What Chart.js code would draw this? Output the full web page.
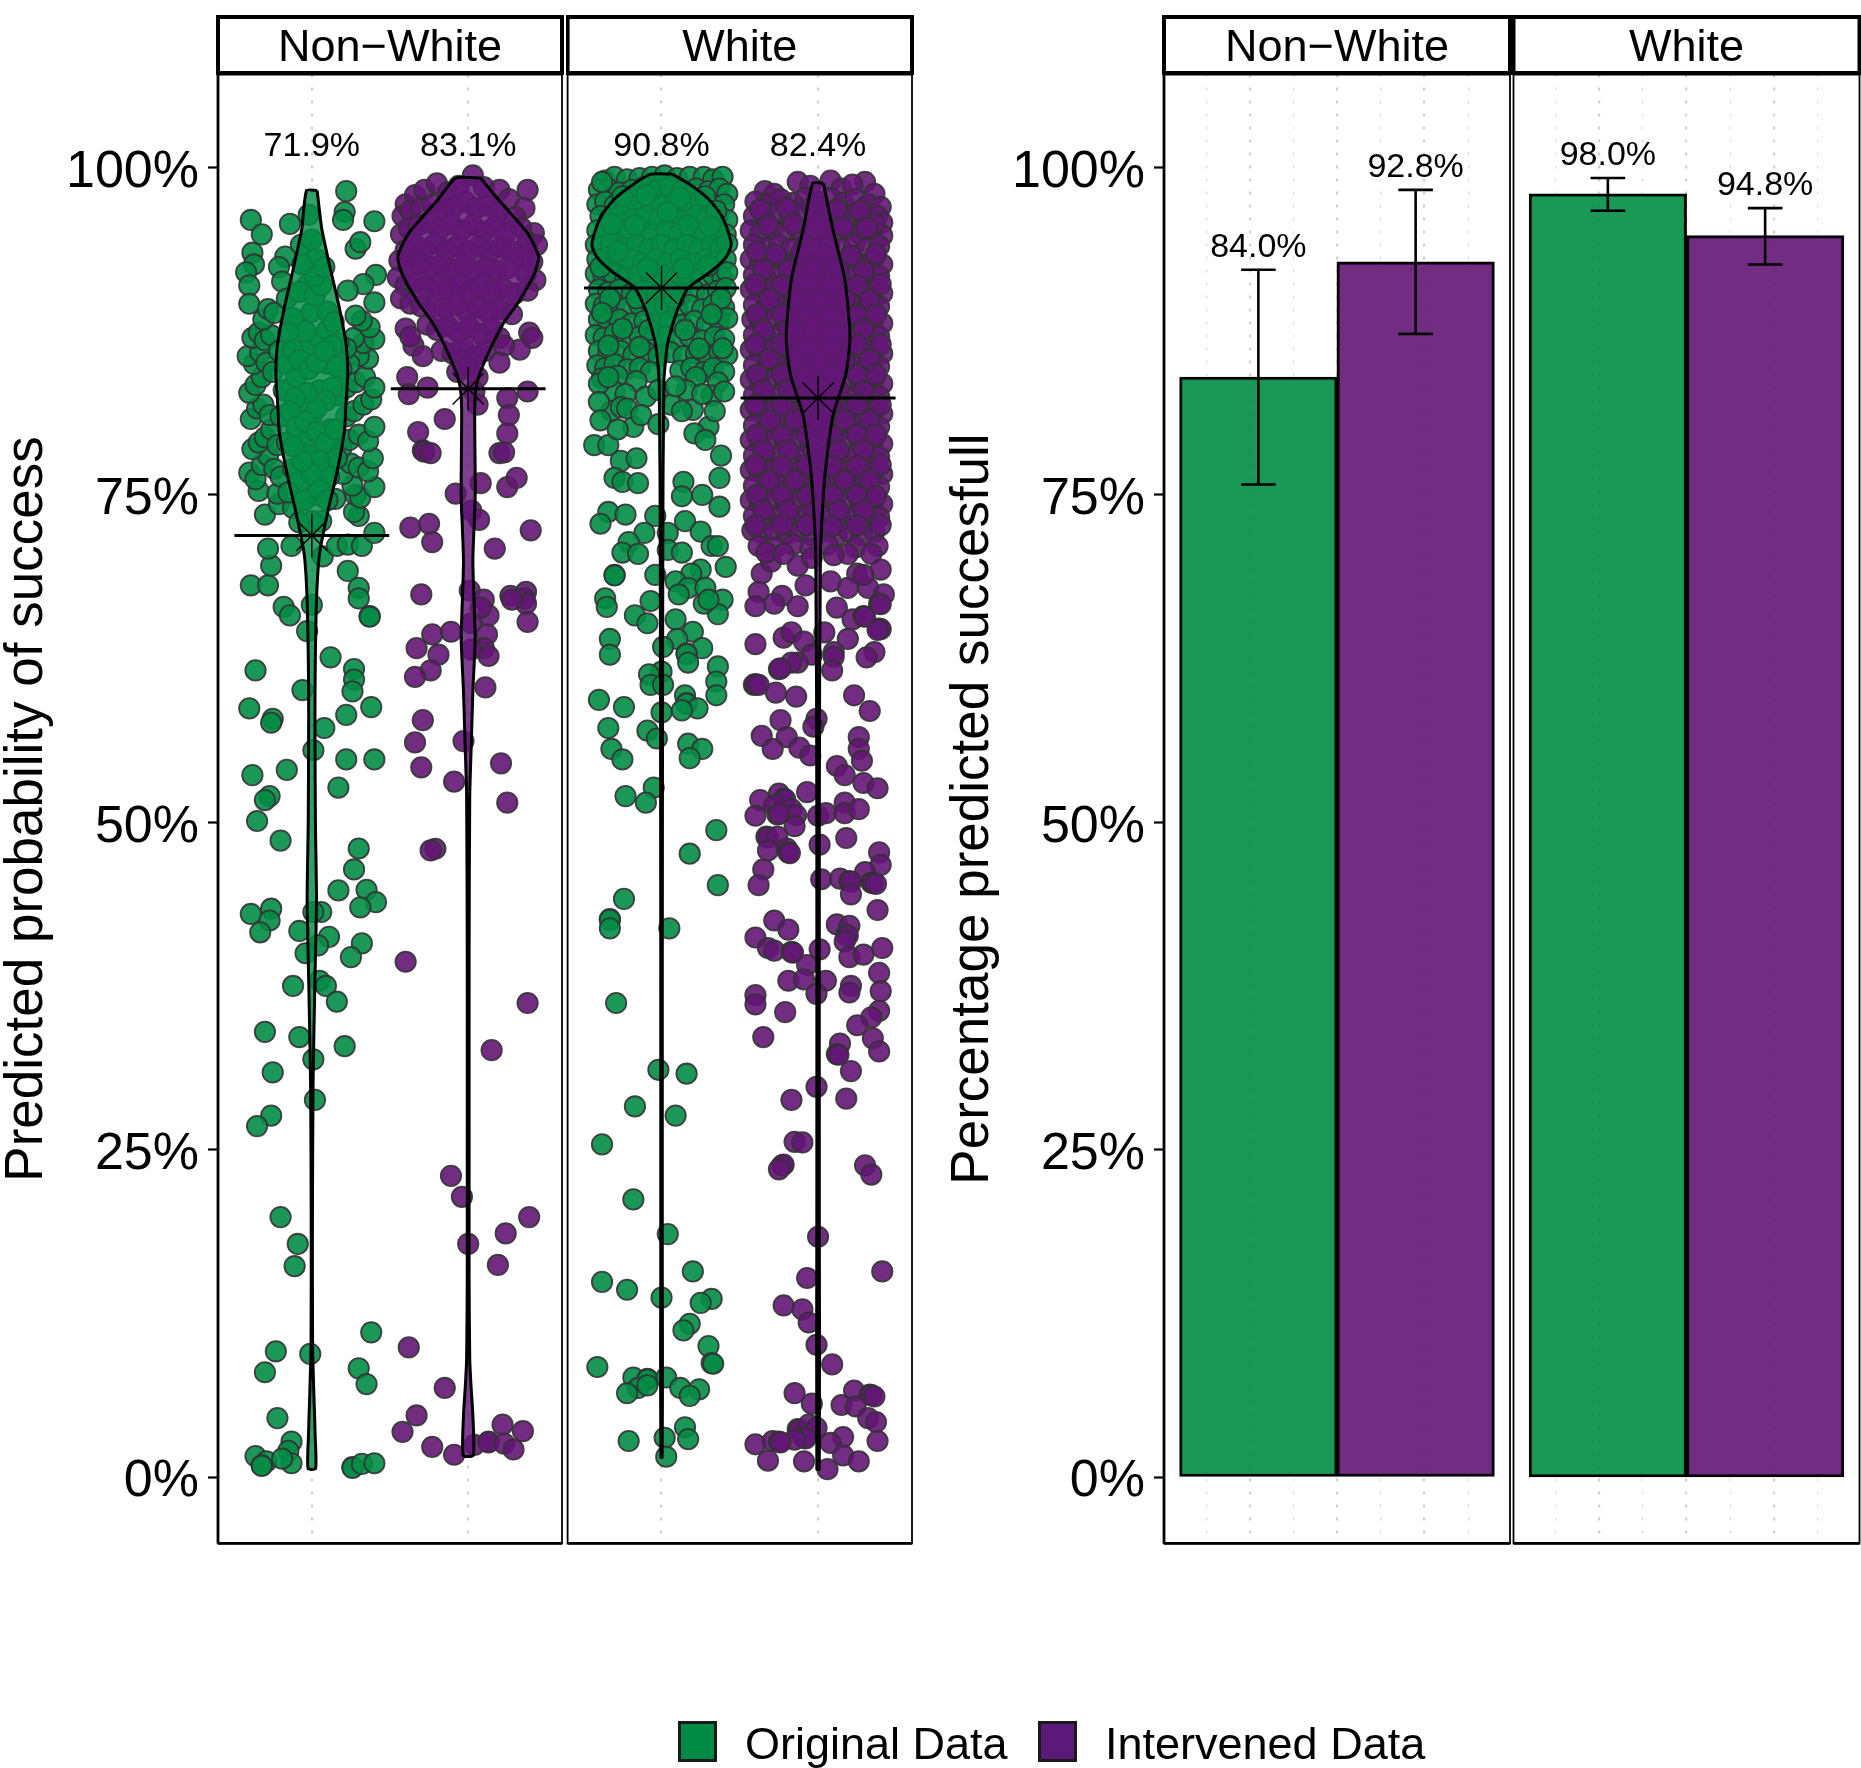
<!DOCTYPE html>
<html><head><meta charset="utf-8">
<script src="https://cdn.jsdelivr.net/npm/chart.js@4/dist/chart.umd.min.js"></script>
<style>
html,body{margin:0;padding:0;background:#fff;width:1861px;height:1768px;overflow:hidden}
canvas{position:absolute;top:0}
.lg{position:absolute;font:45px "Liberation Sans",Arial,sans-serif;color:#000;line-height:50px;white-space:pre}
.sw{position:absolute;box-sizing:border-box;border:3px solid #1a1a1a}
</style></head><body>
<canvas id="c1" width="564" height="1768" style="left:0"></canvas>
<canvas id="c2" width="348" height="1768" style="left:566px"></canvas>
<canvas id="c3" width="582" height="1768" style="left:930px"></canvas>
<canvas id="c4" width="349" height="1768" style="left:1512px"></canvas>
<div class="sw" style="left:678px;top:1721px;width:39px;height:41px;background:#008A45"></div>
<div class="lg" style="left:745px;top:1719px">Original Data</div>
<div class="sw" style="left:1038px;top:1721px;width:39px;height:41px;background:#5B1A79"></div>
<div class="lg" style="left:1105px;top:1719px">Intervened Data</div>
<script>
const facets = ["Non\u2212White","White"];
const yTicks = [0,25,50,75,100];
const titleLeft = "Predicted probability of success";
const titleRight = "Percentage predicted succesfull";
const means = [[71.9,83.1],[90.8,82.4]];
const barValues = [[84.0,92.8],[98.0,94.8]];
const barLabels = [["84.0%","92.8%"],["98.0%","94.8%"]];
const errLow = [[75.8,87.3],[96.7,92.6]];
const errHigh = [[92.2,98.3],[99.2,96.9]];
const gridMajorLeft = [1,2];
const gridMajorRight = [0.946,1.5,2.054];
const gridMinorRight = [0.668,1.223,1.78,2.336];

const violinY_NW_O = [98.25,95.3,92.35,89.4,86.5,84.2,82.1,79.8,76.6,73.7,70.5,67,62,58,50,44,38,30,20,10,6,3,0.65];
const violinW_NW_O = [.034,.064,.117,.174,.219,.23,.219,.208,.158,.102,.049,.03,.022,.02,.023,.03,.02,.008,.004,.005,.014,.022,.024];
const violinY_NW_I = [99.2,97.6,95,93.2,91.8,89.7,88,85.6,83.6,81.6,75,70,66,64,60,56,52,40,25,15,9,7,4.7,1.65];
const violinW_NW_I = [.08,.19,.38,.45,.42,.32,.22,.12,.057,.042,.045,.03,.04,.045,.03,.02,.01,.006,.006,.006,.01,.018,.03,.032];
const violinY_W_O = [99.5,98.8,97.6,96.4,95.3,94.1,93.2,92.1,90.8,88.9,86.5,83.6,70,40,15,10,1.5];
const violinW_W_O = [.068,.17,.30,.38,.42,.445,.415,.32,.17,.094,.038,.015,.008,.005,.005,.006,.004];
const violinY_W_I = [98.8,95.3,91.5,87.1,84.2,81,76.3,70.5,50,20,0.6];
const violinW_W_I = [.034,.094,.17,.204,.177,.094,.042,.015,.008,.008,.008];

const points_NW_O = [
[1.22,98.2],[1.21,96.6],[1.20,96],[1.40,95.9],[.86,95.7],[.61,96],[.68,94.9],[1.28,93.8],[1.31,94.3],[.93,94.1],[.62,93.5],[.83,93.2],[.63,92.6],[.79,92.4],[.58,92],[1.41,91.8],[.6,91],[1.33,91.1],[1.23,90.6],[.81,91.3],[1.4,89.7],[.6,89.6],
[.61,68.1],[.72,68.1],[.74,69.6],[.72,70.9],[.87,71.1],[1.07,70.3],[1.16,71.1],[1.23,71.2],[1.32,71.1],[1.23,69.2],[1.30,67.9],[1.40,72.1],[.7,73.5],[.79,74.3],[1.30,73.4],[1.27,73.7],[.66,75.3],[.78,75.1],[1.15,74.7],[1.28,75],[1.31,74.8],[1.40,75.6],[1.26,75.7],
[.60,76.7],[.64,76.2],[.68,77.3],[.72,78],[.76,77],[.80,76.4],[.62,78.5],[.66,79],[.70,79.4],[.74,80],[.78,78.8],[.61,80.8],[.65,81.6],[.69,81.9],[.73,81.1],[.60,82.8],[.64,83.4],[.68,84],[.63,85],[.59,85.6],[.67,85.9],[.71,85.1],[.75,84.4],[.62,87],[.66,87.4],[.70,86.8],[.74,87.2],[.79,86],[.84,85],[.82,83],[.80,81],[.84,79],[.88,77],[.69,88.4],[.72,89.2],[.76,88.9],
[1.20,76.6],[1.25,77.4],[1.30,77.1],[1.36,76.8],[1.39,77.8],[1.19,78.6],[1.24,79.2],[1.30,79.6],[1.36,79.1],[1.40,80.2],[1.22,81],[1.27,81.4],[1.33,81.9],[1.38,82.3],[1.17,82.6],[1.22,83.2],[1.28,83.6],[1.34,84],[1.40,83.2],[1.36,85.4],[1.30,85.6],[1.24,85],[1.19,84.6],[1.33,86.6],[1.27,87],[1.22,86.2],[1.40,86.9],[1.37,87.8],[1.32,88.3],[1.28,88.7],
[.88,74],[.92,76],[.95,79],[1,81],[1.05,83],[.9,84],[.95,86],[1.05,87],[1.1,85],[1.12,80],[1.08,77],[1.02,75],[.93,82],[1,89],[.97,91],[1.03,93],[.98,78],[1.06,73],[1.1,89],[.9,88],
[.84,90],[.88,88.5],[.92,90.5],[.96,87.5],[1.02,90.2],[1.06,91],[1.1,87.6],[1.14,88.2],[1.17,86.6],[1.13,86.4],[.85,87.4],[.88,86.1],[.92,85.3],[.98,84.6],[1.03,85.1],[1.08,86],[1.16,84.8],[1.13,83.2],[1.09,82.2],[1.03,81.6],[.97,82.8],[.89,82.4],[.86,81.4],[.9,80.2],[.96,80.6],[1.03,79.8],[1.09,79],[1.15,80],[1.16,77.8],[1.11,76.4],[1.05,77.6],[1,76.6],[.94,77.6],[.88,78.7],[.85,75.2],[.95,74.6],[1,73],[1.05,75.4],[1.1,74.6],[.92,72.9],[1,94.5],[.98,96.4],[1.02,91.7],[.94,92.6],[1.08,92.4],
[.82,66.45],[.86,65.8],[.97,64.6],[1,66.6],[1.37,65.75],[1.37,65.7],[1.30,67.1],[1.12,62.6],[.64,61.6],[1.27,61.7],[1.27,60.9],[1.26,60],[.94,60.1],[.60,58.7],[.75,57.9],[.74,57.6],[1.38,58.8],[1.22,58.2],[1.08,57.2],[1.01,55.5],[1.22,54.8],[1.40,54.8],[.84,54],[.62,53.6],[1.17,52.65],[.73,52],[.70,51.7],[.65,50.1],[.80,48.6],[1.30,48],[1.27,46.4],[1.17,44.8],[1.35,44.85],[1.41,43.9],[1.31,43.5],[.74,43.4],[.61,43],[.73,42.5],[.67,41.6],[1.06,43.15],[1.01,43.15],[.92,41.7],[1.11,41.25],[1.04,40.6],[.96,40],[1.32,40.75],[1.25,39.7],[1.05,37.9],[1.09,37.5],[.88,37.5],[1.16,36.3],[.70,34],[.92,33.6],[1.21,32.9],[1.01,31.9],[.75,30.9],[1.02,28.8],[.74,27.6],[.65,26.8],
[.80,19.85],[.91,17.8],[.89,16.1],[.99,9.4],[.77,9.6],[.70,8],[1.38,11.05],[1.30,8.3],[1.35,7.1],[.78,4.5],[.87,2.7],[.85,2],[.64,1.6],[.71,1.2],[.68,.9],[.68,.85],[.87,1.05],[.81,1.4],[1.26,.75],[1.26,.7],[1.32,1],[1.40,1.05]];

const points_NW_I = [
[1.60,97.2],[1.66,97.9],[1.72,98.3],[1.80,98.8],[1.87,98.1],[1.94,98.6],[2.03,99.4],[2.10,98.5],[2.20,98.3],[2.26,97.6],[2.38,98.3],[2.36,96.9],
[1.58,96.3],[1.63,96.7],[1.70,96.9],[1.77,97.2],[1.84,96.8],[1.91,97],[1.98,97.4],[2.05,96.9],[2.12,97.1],[2.19,96.6],[2.30,96.2],[2.42,95],[2.34,95.4],
[1.57,94.9],[1.62,95.4],[1.68,95.6],[1.75,95.8],[1.82,95.3],[1.89,95.7],[1.96,95.2],[2.03,95.6],[2.10,95.1],[2.17,95.5],[2.24,95],[2.38,94.3],[2.44,94.1],
[1.60,93.7],[1.66,94.1],[1.72,93.8],[1.79,94.2],[1.86,93.7],[1.93,94],[2,93.6],[2.07,94],[2.14,93.6],[2.21,93.9],[2.28,93.6],[2.34,93.2],[2.41,92.8],
[1.56,92.9],[1.62,92.5],[1.69,92.7],[1.76,92.4],[1.83,92.6],[1.90,92.2],[1.97,92.5],[2.04,92.1],[2.11,92.4],[2.18,92.1],[2.25,92.3],[2.37,91.9],[2.43,91.4],
[1.55,91.6],[1.60,91],[1.66,91.2],[1.73,90.9],[1.80,91],[1.87,90.7],[1.94,91],[2.01,90.6],[2.08,90.9],[2.15,90.5],[2.22,90.8],[2.30,90.4],[2.38,90.6],
[1.57,90],[1.63,89.6],[1.70,89.4],[1.78,89.4],[1.85,89.2],[1.92,89.5],[1.99,89],[2.06,89.3],[2.13,88.9],[2.20,89.2],[2.28,88.8],
[1.74,88],[1.80,87.6],[1.87,87.9],[1.94,87.4],[2.01,87.8],[2.08,87.3],[2.15,87.7],[2.20,87],[1.83,86],[1.90,85.8],[1.97,86.2],[2.04,85.6],[2.11,86],[1.93,84.4],[2,84.8],[2.06,84],
[1.6,87.7],[1.65,86.4],[1.63,87.1],[1.71,85.6],[2.39,87.4],[2.41,87],[2.33,86.1],[2.23,86.4],[2.2,85.1],[1.61,84],[1.62,82.7],[1.74,83.2],[2.04,82.9],[2.06,81.9],[2.38,82.9],[2.25,82.4],[2.26,81.1],[1.85,80.8],[1.68,79.8],[2.25,79.7],[1.71,78.4],[1.72,78.3],[1.76,78.2],[2.2,78.2],[2.23,78.25],[1.92,75.1],[2.08,75.9],[2.25,75.6],[2.31,76.3],[2.02,73.8],[2.07,73.1],[1.63,72.5],[1.75,72.8],[2.4,72.3],[1.77,71.4],[2.17,70.9],[1.7,67.4],[2.01,67.7],[2.1,67],[2.27,67.3],[2.37,67.6],[2.36,67.1],
[2.37,66.7],[2.28,67],[2.38,65.3],[2.13,65.8],[2.02,65.2],[2.08,66.4],[1.89,64.55],[1.77,64.35],[1.67,63.3],[1.81,62.8],[2.12,64.35],[2.1,63.3],[2.13,62.7],[2.02,63.2],[1.76,61.6],[1.66,61.1],[2.11,60.3],[1.71,57.8],[1.66,56.1],[1.97,56.2],[1.7,54.2],[2.21,54.5],[1.91,53.1],[2.25,51.5],[1.79,47.98],[1.76,47.85],[1.6,39.35],[2.38,36.2],[2.15,32.6],[1.89,23],[1.96,21.4],
[2.39,19.85],[2.24,18.6],[2,17.8],[2.19,16.2],[1.62,9.9],[1.85,6.8],[1.67,4.7],[1.58,3.45],[1.77,2.3],[1.91,1.7],[2.04,2.45],[2.13,2.7],[2.13,2.65],[2.22,4],[2.35,3.5],[2.23,2.55],[2.29,2.1]];

const points_W_O = [
[.64,99],[.70,99.3],[.78,99.1],[.86,99.2],[.94,99.3],[1.02,99.4],[1.10,99.2],[1.18,99.3],[1.27,99.3],[1.33,99.1],[1.39,99.3],
[.60,98.3],[.66,98.4],[.73,98.1],[.81,98.3],[.89,98.5],[.97,98.2],[1.05,98.5],[1.13,98.2],[1.22,98.4],[1.30,98.2],[1.37,98.4],[1.42,98],
[.59,97.2],[.64,97.4],[.70,97.1],[.77,97.4],[.85,97.1],[.93,97.4],[1.01,97.1],[1.09,97.4],[1.17,97.1],[1.25,97.4],[1.33,97.1],[1.40,97.2],
[.61,96.3],[.67,96.1],[.74,96.4],[.82,96.1],[.90,96.3],[.98,96],[1.06,96.3],[1.14,96],[1.22,96.3],[1.29,96],[1.36,96.3],[1.42,96],
[.59,95.2],[.64,95],[.71,95.3],[.79,95],[.87,95.2],[.95,94.9],[1.03,95.2],[1.11,94.9],[1.19,95.2],[1.27,94.9],[1.34,95.2],[1.41,94.9],
[.58,94.1],[.62,94],[.68,94.2],[.76,93.9],[.84,94.1],[.92,93.8],[1,94.1],[1.08,93.8],[1.16,94.1],[1.24,93.8],[1.32,94.1],[1.38,93.9],[1.42,94.2],
[.59,93],[.65,93.1],[.72,92.8],[.80,93],[.88,92.7],[.96,93],[1.04,92.7],[1.12,93],[1.20,92.7],[1.28,93],[1.35,92.8],[1.41,93],
[.58,91.9],[.63,91.7],[.69,91.9],[.77,91.6],[.85,91.8],[.93,91.5],[1.01,91.8],[1.09,91.5],[1.17,91.8],[1.25,91.5],[1.33,91.8],[1.39,91.6],[1.42,92],
[.60,90.7],[.66,90.5],[.73,90.7],[.81,90.4],[.89,90.6],[.97,90.3],[1.05,90.6],[1.13,90.3],[1.21,90.6],[1.29,90.3],[1.36,90.6],[1.41,90.8],
[.58,89.6],[.63,89.4],[.70,89.6],[.78,89.3],[.86,89.5],[.94,89.2],[1.02,89.5],[1.10,89.2],[1.18,89.5],[1.26,89.2],[1.33,89.5],[1.40,89.3],
[.60,88.4],[.66,88.2],[.73,88.4],[.81,88.1],[.89,88.3],[.97,88],[1.05,88.3],[1.13,88],[1.21,88.3],[1.29,88],[1.37,88.3],[1.42,88.5],
[.58,87.2],[.63,87],[.70,87.3],[.78,86.9],[.86,87.1],[.94,86.8],[1.02,87.1],[1.10,86.8],[1.18,87.1],[1.26,86.8],[1.34,87.1],[1.40,86.9],
[.60,86],[.66,85.9],[.74,86],[.82,85.7],[.90,85.9],[.98,85.6],[1.06,85.9],[1.14,85.6],[1.22,85.8],[1.30,85.6],[1.37,85.9],[1.42,85.7],
[.59,84.9],[.64,84.7],[.70,85],[.78,84.6],[.86,84.7],[.93,84.4],[1.12,84.5],[1.19,84.7],[1.27,84.4],[1.33,84.7],[1.40,84.4],
[.62,98.9],[.75,97.8],[.9,97.9],[1.12,97.7],[1.28,97.8],[1.35,96.7],[.68,95.7],[.83,95.6],[1.04,96.6],[1.17,95.6],[1.31,95.5],[.61,92.4],[.72,93.6],[.91,92.3],[1.14,92.3],[1.3,92.5],[.67,90],[.84,90],[1.08,90],[1.38,90],[.62,88.9],[.75,87.7],[.92,87.6],[1.15,87.6],[1.32,88.8],[.66,86.4],[.86,86.3],[1.24,86.2],[1.39,86.2],[.72,84.1],[.62,83.9],[1.22,84],[1.36,83.6],[.84,83.7],[.7,82.9],[1.16,83],[1.32,82.6],[.9,82.5],[.68,81.4],[1.06,81.9],[1.2,81.5],[.82,80.2],
[1.4,82.9],[1.26,82.7],[.6,83.5],[.66,84],[.77,82.7],[.74,81.7],[.98,83],[1.09,83.3],[.6,82.1],[.61,80.7],[.78,81.6],[.87,81.1],[.98,80.4],[1.13,81.4],[1.3,80.2],[1.21,79.7],[1.28,79.2],[1.34,81.4],
[.57,78.8],[.66,78.8],[.74,77.6],[.72,80],[.84,77.8],[.7,76.3],[.75,76],[.85,75.9],
[1.38,78],[1.37,76.3],[1.37,74.1],[.66,73.7],[.77,73.5],[.61,72.8],[1.14,76],[1.13,74.9],[1.26,75],[.96,73.4],[1.04,72.1],[.89,72.1],[.79,71.4],[.75,70.6],[.85,70.5],[1.15,73],[1.25,72.2],[1.04,70.8],[1.13,70.6],[1.32,71.1],[1.36,71.1],[1.41,69.5],[1.25,69.3],[.7,68.9],[.7,68.85],[.96,68.9],[1.19,69],[1.09,68.4],[.64,67.1],[1.17,67.9],[1.28,67.9],[1.39,67],[1.11,67.4],
[.65,66.45],[.93,66.9],[1.36,65.9],[1.27,66.7],[1.3,67],[.83,65.8],[.91,65.2],[1.09,65.5],[.67,64],[.67,62.8],[1.2,64.55],[1.1,64],[1.01,63.4],[1.26,63.3],[1.16,62.9],[1.16,62.85],[1.17,62.2],[1.36,61.9],[1,61.5],[.92,61.3],[.93,60.5],[1.01,60.5],[1.35,60.75],[1.35,59.7],[1.15,59.7],[1.16,59.1],[1.16,59.05],[1.23,58.7],[1.13,58.55],[1,58.4],[.6,59.35],[.76,58.8],[.66,57.2],[.91,57],[.97,56.4],[1.17,56],[1.26,55.6],[1.18,54.9],[.68,55.6],[.75,54.8],[.95,52.65],[.77,52],[.9,51.5],[1.35,49.4],[1.18,47.6],[1.36,45.2],[.76,44.15],[.67,42.6],[.67,42.55],[.67,41.9],[1.05,41.9],[.71,36.2],[.98,31.1],[1.16,30.8],[.83,28.3],[1.09,27.6],[.62,25.4],
[.82,21.2],[1.04,18.55],[1.2,15.7],[.62,14.9],[.78,14.3],[1,13.7],[1.32,13.6],[1.25,13.3],[1.18,11.7],[1.14,11.2],[1.3,10],[1.32,8.7],[1.33,8.65],[.59,8.4],[.82,7.6],[.91,7.5],[.91,7.45],[1.03,7.6],[.85,6.8],[.78,6.4],[1.12,6.8],[1.24,6.7],[1.18,6.2],[.91,7],[1.15,3.8],[1.17,2.9],[.79,2.75],[1.02,3],[1.03,1.55]];

const points_W_I = [
[1.87,98.9],[2.08,99],[2.3,98.9],[1.66,98.2],[1.72,98],[1.95,98.6],[2.15,98.4],[2.22,98.7],[2.36,98],
[1.60,97.4],[1.68,97.2],[1.76,97.6],[1.84,97.3],[1.92,97.7],[2.00,97.4],[2.08,97.7],[2.16,97.3],[2.24,97.6],[2.32,97.2],[2.40,97],
[1.59,96.3],[1.66,96.1],[1.74,96.5],[1.82,96.2],[1.90,96.5],[1.98,96.1],[2.06,96.4],[2.14,96.1],[2.22,96.4],[2.30,96.1],[2.38,96.3],[2.41,95.8],
[1.57,95.2],[1.63,95],[1.71,95.3],[1.79,95],[1.87,95.3],[1.95,95],[2.03,95.3],[2.11,95],[2.19,95.2],[2.27,94.9],[2.35,95.2],[2.41,94.8],
[1.59,94.1],[1.67,93.9],[1.75,94.1],[1.83,93.8],[1.91,94.1],[1.99,93.8],[2.07,94.1],[2.15,93.8],[2.23,94.1],[2.31,93.8],[2.39,94],
[1.57,93],[1.63,92.8],[1.71,93],[1.79,92.7],[1.87,92.9],[1.95,92.6],[2.03,92.9],[2.11,92.6],[2.19,92.9],[2.27,92.6],[2.35,92.9],[2.41,92.6],
[1.59,91.8],[1.67,91.6],[1.75,91.8],[1.83,91.5],[1.91,91.8],[1.99,91.5],[2.07,91.8],[2.15,91.5],[2.23,91.7],[2.31,91.5],[2.39,91.7],
[1.57,90.7],[1.63,90.5],[1.71,90.7],[1.79,90.4],[1.87,90.6],[1.95,90.3],[2.03,90.6],[2.11,90.3],[2.19,90.6],[2.27,90.3],[2.35,90.6],[2.41,90.4],
[1.59,89.5],[1.67,89.3],[1.75,89.5],[1.83,89.2],[1.91,89.5],[1.99,89.2],[2.07,89.5],[2.15,89.2],[2.23,89.4],[2.31,89.2],[2.39,89.4],
[1.58,88.4],[1.63,88.2],[1.71,88.4],[1.79,88.1],[1.87,88.3],[1.95,88],[2.03,88.3],[2.11,88],[2.19,88.3],[2.27,88],[2.35,88.3],[2.41,88.1],
[1.59,87.2],[1.67,87],[1.75,87.2],[1.83,86.9],[1.91,87.2],[1.99,86.9],[2.07,87.2],[2.15,86.9],[2.23,87.1],[2.31,86.9],[2.39,87.1],
[1.57,86.1],[1.63,85.9],[1.71,86.1],[1.79,85.8],[1.87,86],[1.95,85.7],[2.03,86],[2.11,85.7],[2.19,86],[2.27,85.7],[2.35,86],[2.41,85.8],
[1.59,84.9],[1.67,84.7],[1.75,84.9],[1.83,84.6],[1.91,84.9],[1.99,84.6],[2.07,84.9],[2.15,84.6],[2.23,84.8],[2.31,84.6],[2.39,84.8],
[1.57,83.8],[1.63,83.6],[1.71,83.8],[1.79,83.5],[1.87,83.7],[1.95,83.4],[2.03,83.7],[2.11,83.4],[2.19,83.7],[2.27,83.4],[2.35,83.7],[2.41,83.5],
[1.59,82.6],[1.67,82.4],[1.75,82.6],[1.83,82.3],[1.91,82.6],[1.99,82.3],[2.07,82.6],[2.15,82.3],[2.23,82.5],[2.31,82.3],[2.39,82.5],
[1.57,81.5],[1.63,81.3],[1.71,81.5],[1.79,81.2],[1.87,81.4],[1.95,81.1],[2.03,81.4],[2.11,81.1],[2.19,81.4],[2.27,81.1],[2.35,81.4],[2.41,81.2],
[1.59,80.3],[1.67,80.1],[1.75,80.3],[1.83,80],[1.91,80.3],[1.99,80],[2.07,80.3],[2.15,80],[2.23,80.2],[2.31,80],[2.39,80.2],
[1.57,79.2],[1.63,79],[1.71,79.2],[1.79,78.9],[1.87,79.1],[1.95,78.8],[2.03,79.1],[2.11,78.8],[2.19,79.1],[2.27,78.8],[2.35,79.1],[2.41,78.9],
[1.59,78],[1.67,77.8],[1.75,78],[1.83,77.7],[1.91,78],[1.99,77.7],[2.07,78],[2.15,77.7],[2.23,77.9],[2.31,77.7],[2.39,77.9],
[1.57,76.9],[1.63,76.7],[1.71,76.9],[1.79,76.6],[1.87,76.8],[1.95,76.5],[2.03,76.8],[2.11,76.5],[2.19,76.8],[2.27,76.5],[2.35,76.8],[2.41,76.6],
[1.59,75.7],[1.67,75.5],[1.75,75.7],[1.83,75.4],[1.91,75.7],[1.99,75.4],[2.07,75.7],[2.15,75.4],[2.23,75.6],[2.31,75.4],[2.39,75.6],
[1.57,74.6],[1.63,74.4],[1.71,74.6],[1.79,74.3],[1.87,74.5],[1.95,74.2],[2.03,74.5],[2.11,74.2],[2.19,74.5],[2.27,74.2],[2.35,74.5],[2.41,74.3],
[1.59,73.4],[1.67,73.2],[1.75,73.4],[1.83,73.1],[1.91,73.4],[1.99,73.1],[2.07,73.4],[2.15,73.1],[2.23,73.3],[2.31,73.1],[2.39,73.3],
[1.58,72.3],[1.64,72.1],[1.72,72.3],[1.80,72],[1.88,72.2],[1.96,71.9],[2.04,72.2],[2.12,71.9],[2.20,72.2],[2.28,71.9],[2.36,72.2],
[1.62,71.1],[1.73,71],[1.84,71.2],[1.95,70.9],[2.06,71.2],[2.24,71],[2.38,71.1],
[1.63,96.8],[1.8,96.9],[1.96,97],[2.12,96.8],[2.27,96.7],[2.36,95.7],[1.68,95.6],[1.84,95.7],[2,95.8],[2.16,95.5],[2.31,95.4],[1.61,93.6],[1.73,93.4],[1.89,93.5],[2.05,93.4],[2.21,93.3],[2.37,93.4],[1.65,92.2],[1.81,92.2],[1.97,92.1],[2.13,92.3],[2.29,92.1],[1.6,91.1],[1.77,91],[1.93,91.2],[2.09,91],[2.25,91],[2.4,91.1],[1.69,89.9],[1.85,90],[2.01,89.9],[2.17,89.9],[2.33,89.9],[1.61,88.8],[1.77,88.8],[1.93,88.7],[2.09,88.7],[2.25,88.7],[2.37,88.8],[1.65,87.6],[1.81,87.6],[1.97,87.7],[2.13,87.5],[2.29,87.6],[1.6,86.5],[1.77,86.5],[1.93,86.4],[2.09,86.4],[2.25,86.5],[2.4,86.5],[1.69,85.4],[1.85,85.3],[2.01,85.3],[2.17,85.2],[2.33,85.3],[1.61,84.2],[1.77,84.2],[1.93,84.1],[2.09,84.1],[2.25,84.2],[2.37,84.2],[1.65,83],[1.81,83],[1.97,82.9],[2.13,83],[2.29,82.9],[1.6,81.9],[1.77,81.8],[1.93,81.9],[2.09,81.8],[2.25,81.9],[2.4,81.9],[1.69,80.7],[1.85,80.7],[2.01,80.6],[2.17,80.7],[2.33,80.7],[1.61,79.6],[1.77,79.6],[1.93,79.5],[2.09,79.5],[2.25,79.6],[2.37,79.6],[1.65,78.4],[1.81,78.4],[1.97,78.3],[2.13,78.4],[2.29,78.4],[1.6,77.3],[1.77,77.2],[1.93,77.3],[2.09,77.2],[2.25,77.2],[2.4,77.3],[1.69,76.1],[1.85,76.1],[2.01,76],[2.17,76.1],[2.33,76.1],[1.61,75],[1.77,75],[1.93,74.9],[2.09,75],[2.25,75],[2.37,74.9],[1.65,73.8],[1.81,73.8],[1.97,73.7],[2.13,73.8],[2.29,73.8],[1.6,72.7],[1.77,72.7],[1.93,72.7],[2.09,72.6],[2.25,72.7],[2.4,72.7],
[1.64,69],[1.7,69.9],[1.87,69.6],[2.19,70.5],[2.34,70.5],[2.25,69],[2.32,67.9],[2.42,67.4],[2.19,67.9],[2.08,68.4],[1.92,68.1],[1.77,67.3],[1.62,67.6],[1.67,70.6],[1.78,70.5],[2.1,70.4],[1.96,70.2],[2.4,69.3],[2.29,68.9],
[1.6,66.5],[1.72,66.7],[1.87,66.5],[2.12,66.4],[2.39,66.7],[2.40,66.65],[2.22,65.5],[2.29,65.75],[2.3,65.7],[2.39,64.8],[2.4,64.75],[2.38,64.7],[2.04,64.5],[2.19,64],[1.6,63.6],[1.78,64.1],[1.83,64.5],[1.91,63.8],[2.1,63],[2.1,62.65],[1.96,62.8],[2.36,63],[2.31,62.6],[1.87,62.2],[1.83,62.2],[1.75,61.7],[1.76,61.75],[2.09,61.6],[1.59,60.5],[1.6,60.55],[1.62,60.5],[1.73,59.9],[1.86,59.6],[2.23,59.7],[2.33,58.5],[1.76,57.8],[1.99,57.9],[1.97,57.3],[1.64,56.6],[1.8,56.5],[1.71,55.6],[1.88,55.7],[1.95,55.1],[2.26,56.5],[2.26,55.6],[2.28,54.7],[2.12,54.3],[2.17,53.6],[2.29,53],[2.38,52.6],[1.93,52.3],[1.75,52.2],[1.78,51.8],[1.79,51.75],[1.63,51.7],[1.72,51.3],[1.83,51],[1.86,50.55],[1.74,50.6],[1.75,50.65],[1.6,50.5],[1.85,49.7],[2,50.5],[2.05,50.7],[2.17,51.5],[2.17,50.7],[2.26,51],[1.67,48.9],[1.68,48.85],[1.74,48.9],[1.68,47.85],[1.8,48],[1.81,47.7],[1.82,47.65],[2.01,48.3],[2.18,48.8],[2.39,47.7],[2.4,46.75],[1.65,46.4],[2.3,46.2],[1.62,45.2],[2.02,45.65],[2.14,45.7],[2.2,45.5],[2.21,45.45],[2.34,45.4],[2.35,45.35],[2.37,45.3],[2.21,44.5],[2.38,43.3],[1.72,42.5],[1.81,41.8],[2.12,42.2],[2.2,42.1],[2.18,41.4],[2.19,41.35],[2.17,40.9],[1.6,41.2],[1.68,40.4],[1.72,40.2],[1.83,40.1],[1.84,40.05],[2.01,40.3],[2.2,39.7],[2.29,39.9],[2.41,40.4],[1.93,39.1],[2.39,38.5],[1.81,37.9],[1.91,38],[2.05,37.9],[2.21,37.5],[2.2,37],[1.99,36.9],[2.4,37.1],[1.6,36.8],[1.6,36.1],[1.79,35.5],[2.39,35.6],[2.34,35.1],[2.25,34.5],[1.65,33.6],[2.35,33.5],[2.39,32.5],[2.14,33.1],[2.12,32.3],[2.13,32.25],[2.21,31],[1.99,29.8],[1.83,28.8],[2.18,28.9],[1.85,25.6],[1.9,25.55],[1.77,23.8],[1.78,23.85],[1.75,23.5],[2.3,23.8],[2.34,23.1],
[2,18.35],[2.41,15.7],[1.93,15.2],[1.78,13.1],[1.9,12.8],[1.94,11.8],[1.99,10.1],[2.09,8.6],[1.85,6.4],[1.96,5.6],[2.23,6.6],[2.33,6.3],[2.34,6.25],[2.36,6.15],[2.15,5.5],[2.24,5.4],[2.32,4.5],[2.37,4.2],[1.87,3.65],[1.88,3.6],[1.94,4],[1.99,3.75],[2.16,3.05],[2.08,2.6],[2.38,2.75],[1.91,3],[1.92,2.95],[1.85,2.85],[1.6,2.5],[1.71,2.75],[1.75,2.7],[1.76,2.65],[1.68,1.25],[1.91,1.2],[2.16,1.65],[2.26,1.2],[2.06,.6]];

const green = "rgba(2,140,70,0.9)", purple = "rgba(99,22,118,0.9)";
const greenV = "rgba(2,140,70,0.82)", purpleV = "rgba(99,22,118,0.82)";
const pointEdge = "rgba(51,51,51,0.9)";
const FONT = '"Liberation Sans",Arial,sans-serif';

function violin(cat, ys, ws){
  const right = ys.map((y,i)=>({x:cat+ws[i],y}));
  const left = ys.map((y,i)=>({x:cat-ws[i],y})).reverse();
  return right.concat(left, [right[0]]);
}
const facetPlugin = {
  id:"facet",
  afterDraw(chart){
    const o = chart.options.plugins.facet, a = chart.chartArea, c = chart.ctx;
    c.save();
    c.strokeStyle="#000"; c.lineWidth=1.8; c.strokeRect(a.left,a.top,a.right-a.left,a.bottom-a.top);
    c.lineWidth=2.8; c.beginPath(); c.moveTo(a.left,a.bottom); c.lineTo(a.right,a.bottom); c.stroke();
    if(o.left){c.beginPath();c.moveTo(a.left,a.top);c.lineTo(a.left,a.bottom);c.stroke();}
    c.lineWidth=4; c.fillStyle="#fff"; 
    c.fillRect(a.left,17,a.right-a.left,56); c.strokeRect(a.left,17,a.right-a.left,56);
    c.fillStyle="#000"; c.font="45px "+FONT; c.textAlign="center"; c.textBaseline="middle";
    c.fillText(o.label,(a.left+a.right)/2,48.5);
    c.font="34px "+FONT;
    (o.values||[]).forEach(v=>c.fillText(v.text,chart.scales.x.getPixelForValue(v.x),chart.scales.y.getPixelForValue(v.y)));
    c.restore();
  }
};
function xScale(major,minor){
  const all = major.concat(minor);
  const isMajor = c => !c.tick || major.includes(c.tick.value);
  return {type:"linear",min:0.4,max:2.6,offset:false,
    afterBuildTicks(s){s.ticks = all.map(v=>({value:v}));},
    afterFit(s){s.height=0;},
    ticks:{display:false},
    border:{display:false,dash:[3,10]},
    grid:{offset:false,drawTicks:false,drawOnChartArea:true,
      color:c=>isMajor(c)?"#cfcfcf":"#dddddd",
      lineWidth:c=>isMajor(c)?2.2:1.2}};
}
function yScale(show,title,width,tp){
  return {type:"linear",min:-5.07,max:107.1,display:show,
    afterBuildTicks(s){s.ticks=yTicks.map(v=>({value:v}));},
    afterFit(s){s.width=width;},
    grid:{display:show,drawOnChartArea:false,drawTicks:true,tickLength:10,tickWidth:2.2,tickColor:"#000"},
    border:{display:false},
    ticks:{autoSkip:false,padding:9,labelOffset:5,color:"#000",font:{family:FONT,size:52},maxRotation:0,minRotation:0,callback:v=>v+"%"},
    title:{display:true,text:title,color:"#000",font:{family:FONT,size:53,lineHeight:1},padding:{top:tp,bottom:0}}};
}
function violinChart(id,f,pad,show,width,sets){
  const labels = means[f].map((m,i)=>({x:i+1,y:101.6,text:m.toFixed(1)+"%"}));
  const ds = [];
  sets.forEach((s,i)=>{
    const cat=i+1, col=i?purple:green, vcol=i?purpleV:greenV, m=means[f][i];
    ds.push({type:"scatter",data:s.pts.map(p=>({x:p[0],y:p[1]})),backgroundColor:col,borderColor:pointEdge,borderWidth:1.8,pointRadius:10.2,order:4});
    ds.push({type:"line",data:violin(cat,s.y,s.w),borderColor:"#000",borderWidth:3,backgroundColor:vcol,fill:"shape",pointRadius:0,tension:0.2,order:3});
    ds.push({type:"line",data:[{x:cat-.495,y:m},{x:cat+.495,y:m}],borderColor:"#000",borderWidth:3,pointRadius:0,order:2});
    ds.push({type:"scatter",data:[{x:cat,y:m}],pointStyle:"star",pointRadius:22,borderColor:"#000",backgroundColor:"#000",borderWidth:1.4,order:1});
  });
  return new Chart(document.getElementById(id),{type:"scatter",data:{datasets:ds},plugins:[facetPlugin],
    options:{responsive:false,devicePixelRatio:1,animation:false,layout:{autoPadding:false,padding:{left:pad[0],right:pad[1],top:74.6,bottom:1768-1543.4}},
    plugins:{legend:{display:false},tooltip:{enabled:false},facet:{label:facets[f],values:labels,left:show}},
    scales:{x:xScale(gridMajorLeft,[]),y:yScale(show,titleLeft,width,1)}}});
}
function barChart(id,f,pad,show,width){
  const ds = [{type:"bar",data:barValues[f].map((v,i)=>({x:i+1,y:v})),backgroundColor:[green,purple],borderColor:"#000",borderWidth:2.8,borderSkipped:false,barThickness:157.5,order:3}];
  const cap=.11;
  barValues[f].forEach((v,i)=>{
    const x=i+1,h=errHigh[f][i],l=errLow[f][i];
    ds.push({type:"line",data:[{x:x-cap,y:h},{x:x+cap,y:h},{x,y:h},{x,y:l},{x:x-cap,y:l},{x:x+cap,y:l}],borderColor:"#000",borderWidth:2.6,pointRadius:0,tension:0,fill:false,order:1});
  });
  const labels = barLabels[f].map((t,i)=>({x:i+1,y:errHigh[f][i]+1.7,text:t}));
  return new Chart(document.getElementById(id),{type:"bar",data:{datasets:ds},plugins:[facetPlugin],
    options:{responsive:false,devicePixelRatio:1,animation:false,layout:{autoPadding:false,padding:{left:pad[0],right:pad[1],top:74.6,bottom:1768-1543.4}},
    plugins:{legend:{display:false},tooltip:{enabled:false},facet:{label:facets[f],values:labels,left:show}},
    scales:{x:xScale(gridMajorRight,gridMinorRight),y:yScale(show,titleRight,width,17)}}});
}
violinChart("c1",0,[0,2],true,218,[{pts:points_NW_O,y:violinY_NW_O,w:violinW_NW_O},{pts:points_NW_I,y:violinY_NW_I,w:violinW_NW_I}]);
violinChart("c2",1,[1.6,2],false,0,[{pts:points_W_O,y:violinY_W_O,w:violinW_W_O},{pts:points_W_I,y:violinY_W_I,w:violinW_W_I}]);
barChart("c3",0,[0,2],true,234);
barChart("c4",1,[1.5,1.5],false,0);
</script>
</body></html>
